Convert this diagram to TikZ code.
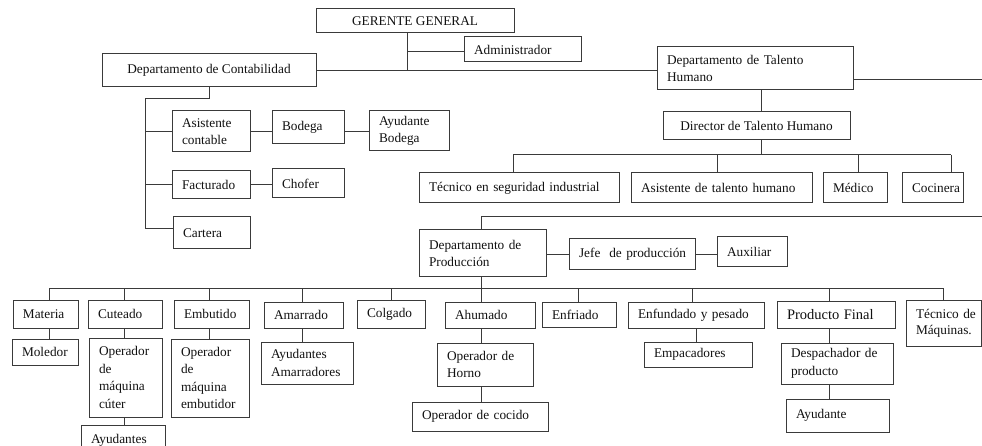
\documentclass[tikz,border=0pt]{standalone}
\usepackage{fontspec}
\setmainfont{Liberation Serif}
\hyphenpenalty=10000
\exhyphenpenalty=10000
\definecolor{lc}{HTML}{3A3A3A}
\definecolor{tc}{HTML}{111111}
\newcommand\bx[7][L]{%
  \pgfmathsetmacro\bw{#5-#3}%
  \pgfmathsetmacro\bh{#6-#4}%
  \pgfmathsetmacro\tw{#5-#3-20}%
  \node[box,minimum width=\bw pt,minimum height=\bh pt,#1] (#2) at ({(#3+#5)/2},{(#4+#6)/2}) {#7};}
\begin{document}
\begin{tikzpicture}[x=1pt,y=-1pt,
  box/.style={draw=lc,line width=1pt,inner sep=0pt,font=\fontsize{13.3}{17.5}\selectfont,text=tc},
  L/.style={align=left,text width=\tw pt,inner xsep=10pt},
  C/.style={align=center},
  ln/.style={draw=lc,line width=1pt}]
\useasboundingbox[fill=white] (0,0) rectangle (982,446);
% top
\bx[C]{gg}{316}{9}{514}{33}{GERENTE GENERAL}
\bx{adm}{464}{37}{581}{62}{Administrador}
\bx[C]{contab}{102}{54}{316}{87}{Departamento de Contabilidad}
\bx{tal}{657}{47}{853}{90}{Departamento de Talento\\Humano}
\bx[C]{dir}{663}{112}{850}{140}{Director de Talento Humano}
\bx{tsi}{419}{173}{619}{203}{Técnico~en~seguridad~industrial}
\bx{ath}{631}{173}{812}{203}{Asistente~de~talento~humano}
\bx{med}{823}{173}{887}{203}{Médico}
\bx{coc}{902}{173}{963}{203}{Cocinera}
% contabilidad
\bx{asc}{172}{111}{250}{152}{Asistente\\contable}
\bx{bod}{272}{111}{344}{144}{Bodega}
\bx{ayb}{369}{111}{449}{151}{Ayudante\\Bodega}
\bx{fac}{172}{171}{250}{199}{Facturado}
\bx{cho}{272}{169}{344}{198}{Chofer}
\bx{car}{173}{217}{250}{249}{Cartera}
% produccion
\bx{prod}{419}{230}{546}{277}{Departamento~de\\Producción}
\bx{jefe}{569}{239}{695}{270}{Jefe~~de~producción}
\bx{aux}{717}{237}{787}{267}{Auxiliar}
\bx{mat}{13}{300}{78}{328}{Materia}
\bx{cut}{88}{300}{162}{328}{Cuteado}
\bx{emb}{174}{300}{249}{328}{Embutido}
\bx{ama}{264}{302}{343}{328}{Amarrado}
\bx{col}{357}{300}{425}{328}{Colgado}
\bx{ahu}{445}{302}{535}{328}{Ahumado}
\bx{enf}{542}{302}{616}{327}{Enfriado}
\bx{enp}{628}{302}{764}{328}{Enfundado~y~pesado}
\bx{pf}{777}{301}{895}{328}{\fontsize{14.5}{17}\selectfont Producto~Final}
\bx[{L,font=\fontsize{13.3}{16}\selectfont}]{tma}{906}{300}{981}{346}{Técnico~de\\Máquinas.}
\bx{mol}{12}{339}{78}{365}{Moledor}
\bx{opc}{89}{338}{162}{417}{Operador\\de\\máquina\\cúter}
\bx{ayu}{81}{425}{165}{455}{Ayudantes}
\bx{ope}{171}{339}{249}{417}{Operador\\de\\máquina\\embutidor}
\bx{aya}{261}{342}{353}{384}{Ayudantes\\Amarradores}
\bx{oph}{437}{343}{533}{386}{Operador~de\\Horno}
\bx{opco}{412}{402}{548}{431}{Operador~de~cocido}
\bx{emp}{644}{342}{752}{367}{Empacadores}
\bx{des}{781}{343}{893}{384}{Despachador~de\\producto}
\bx{ayd}{786}{399}{889}{432}{Ayudante}
% connectors top
\coordinate (gj) at (407,71);
\coordinate (aj) at (407,52);
\draw[ln] (gg.south -| gj) -- (gj);
\draw[ln] (aj) -- (aj -| adm.west);
\draw[ln] (contab.east |- gj) -- (gj -| tal.west);
\coordinate (re1) at (982,80);
\draw[ln] (re1 -| tal.east) -- (re1);
\coordinate (tx) at (761,100);
\draw[ln] (tx |- tal.south) -- (tx |- dir.north);
\coordinate (hb1) at (513,155);
\coordinate (hb2) at (717,155);
\coordinate (hb3) at (858,155);
\coordinate (hb4) at (951,155);
\draw[ln] (tx |- dir.south) -- (tx |- hb1);
\draw[ln] (hb1) -- (hb4);
\foreach \c/\n in {hb1/tsi,hb2/ath,hb3/med,hb4/coc} \draw[ln] (\c) -- (\c |- \n.north);
% contabilidad connectors
\coordinate (cb) at (145,99);
\coordinate (cc) at (145,229);
\draw[ln] (contab.south) -- (contab.south |- cb) -- (cb) -- (cc) -- (cc -| car.west);
\draw[ln] (cb |- asc.west) -- (asc.west);
\draw[ln] (cb |- fac.west) -- (fac.west);
\draw[ln] (asc.east) -- (asc.east -| bod.west);
\draw[ln] (asc.east -| bod.east) -- (asc.east -| ayb.west);
\draw[ln] (fac.east) -- (fac.east -| cho.west);
% produccion connectors
\coordinate (pj) at (481,217);
\coordinate (re2) at (982,217);
\draw[ln] (re2) -- (pj) -- (pj |- prod.north);
\draw[ln] (prod.east |- jefe.west) -- (jefe.west);
\draw[ln] (jefe.east) -- (jefe.east -| aux.west);
\coordinate (p1) at (49,288);
\coordinate (p2) at (124,288);
\coordinate (p3) at (209,288);
\coordinate (p4) at (302,288);
\coordinate (p5) at (391,288);
\coordinate (p6) at (481,288);
\coordinate (p7) at (578,288);
\coordinate (p8) at (692,288);
\coordinate (p9) at (829,288);
\coordinate (p10) at (943,288);
\draw[ln] (p6 |- prod.south) -- (p6);
\draw[ln] (p1) -- (p10);
\foreach \c/\n in {p1/mat,p2/cut,p3/emb,p4/ama,p5/col,p6/ahu,p7/enf,p8/enp,p9/pf,p10/tma}
  \draw[ln] (\c) -- (\c |- \n.north);
\draw[ln] (p1 |- mat.south) -- (p1 |- mol.north);
\draw[ln] (p2 |- cut.south) -- (p2 |- opc.north);
\draw[ln] (p2 |- opc.south) -- (p2 |- ayu.north);
\draw[ln] (p3 |- emb.south) -- (p3 |- ope.north);
\draw[ln] (p4 |- ama.south) -- (p4 |- aya.north);
\draw[ln] (p6 |- ahu.south) -- (p6 |- oph.north);
\draw[ln] (p6 |- oph.south) -- (p6 |- opco.north);
\coordinate (q8) at (696,330);
\draw[ln] (q8 |- enp.south) -- (q8 |- emp.north);
\draw[ln] (p9 |- pf.south) -- (p9 |- des.north);
\draw[ln] (p9 |- des.south) -- (p9 |- ayd.north);
\end{tikzpicture}
\end{document}
